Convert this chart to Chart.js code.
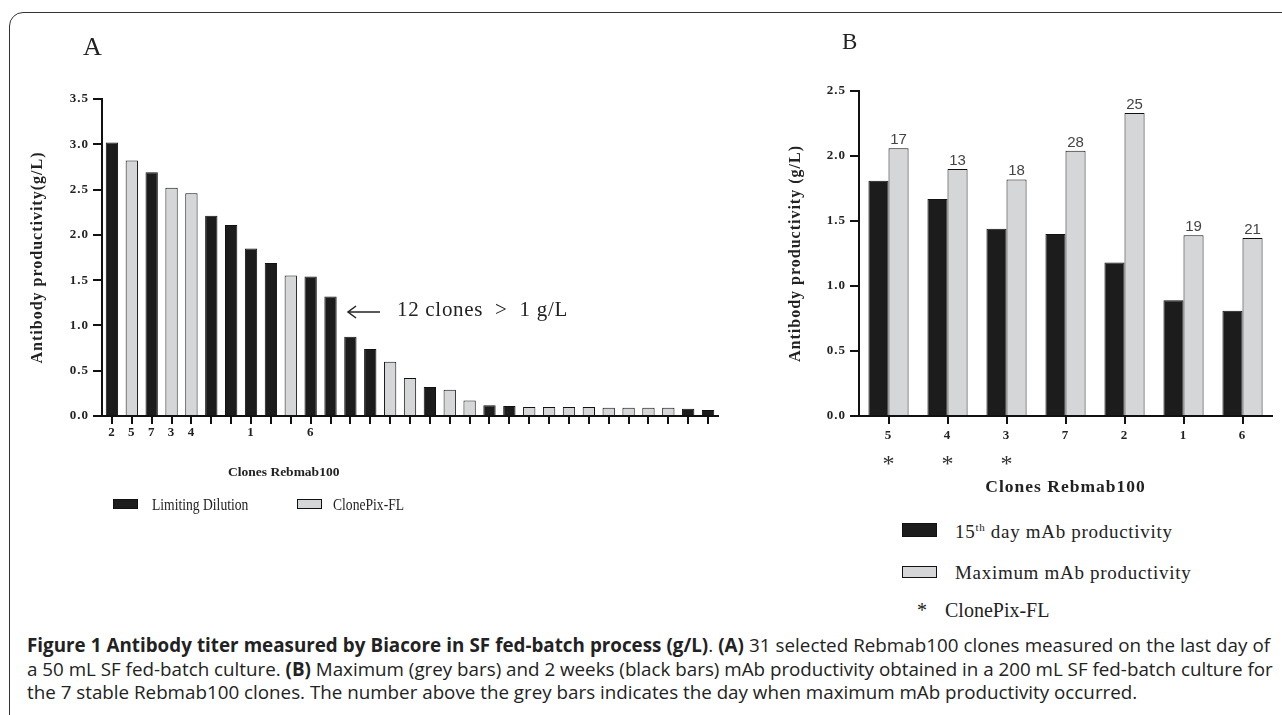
<!DOCTYPE html>
<html>
<head>
<meta charset="utf-8">
<script src="https://cdn.jsdelivr.net/npm/chart.js@4.4.1/dist/chart.umd.min.js"></script>
<style>
  html, body { margin: 0; padding: 0; background: #fff; }
  body { width: 1282px; height: 715px; position: relative; overflow: hidden;
         font-family: "Liberation Serif", "Times New Roman", serif; color: #222; }
  .frame { position: absolute; left: 9px; top: 12px; width: 1320px; height: 760px;
           border: 1.5px solid #333; border-radius: 14px; }
  .abs { position: absolute; white-space: nowrap; line-height: 1; }
  canvas { position: absolute; top: 0; }
  #chartA { left: 0; }
  #chartB { left: 740px; }
  .box { position: absolute; box-sizing: border-box; border: 1px solid #111; }
  .narrow { transform: scaleX(0.8); transform-origin: left center; }
  .wide { letter-spacing: 0.7px; }
  .cap { position: absolute; left: 27px; top: 634px; width: 1243px;
         font-family: "Open Sans", sans-serif; font-size: 18.8px; line-height: 23.5px; color: #222; }
  .cap div { white-space: nowrap; }
  .cap .j { text-align: justify; text-align-last: justify; }
</style>
</head>
<body>
<div class="frame"></div>

<canvas id="chartA" width="740" height="480"></canvas>
<canvas id="chartB" width="542" height="498"></canvas>

<div class="abs" style="left:83px; top:34px; font-size:26px;">A</div>
<div class="abs" style="left:842px; top:30px; font-size:23px;">B</div>

<svg class="abs" style="left:345px; top:304px;" width="38" height="16">
  <line x1="3" y1="8" x2="35" y2="8" stroke="#222" stroke-width="1.5"/>
  <polyline points="11,2 3,8 11,14" fill="none" stroke="#222" stroke-width="1.5"/>
</svg>
<div class="abs" style="left:397px; top:299px; font-size:21px; letter-spacing:0.7px;">12 clones&nbsp; &gt;&nbsp; 1 g/L</div>

<div class="abs" style="left:228px; top:465px; font-size:13.5px; font-weight:bold;">Clones Rebmab100</div>

<div id="legendA"></div>
<div id="legendB"></div>

<div class="cap">
  <div class="j"><b>Figure 1 Antibody titer measured by Biacore in SF fed-batch process (g/L)</b>. <b>(A)</b> 31 selected Rebmab100 clones measured on the last day of</div>
  <div class="j">a 50 mL SF fed-batch culture. <b>(B)</b> Maximum (grey bars) and 2 weeks (black bars) mAb productivity obtained in a 200 mL SF fed-batch culture for</div>
  <div>the 7 stable Rebmab100 clones. The number above the grey bars indicates the day when maximum mAb productivity occurred.</div>
</div>

<script>
"use strict";

const BLACK = "#1c1c1c";
const GREY = "#d5d6d8";
const EDGE = "#111";
const INK = "#222";
const SERIF = '"Liberation Serif", "Times New Roman", serif';

// Panel A: 31 clones, last day of 50 mL fed-batch
const clonesA = ["2", "5", "7", "3", "4", "", "", "1", "", "", "6", "", "", "", "", "",
                 "", "", "", "", "", "", "", "", "", "", "", "", "", "", ""];
const titerA = [3.02, 2.82, 2.69, 2.52, 2.46, 2.21, 2.11, 1.85, 1.69, 1.55, 1.54, 1.32,
                0.875, 0.74, 0.60, 0.42, 0.32, 0.29, 0.17, 0.12, 0.11, 0.10, 0.10, 0.10,
                0.10, 0.09, 0.09, 0.09, 0.09, 0.08, 0.065];
const methodA = ["LD", "CP", "LD", "CP", "CP", "LD", "LD", "LD", "LD", "CP", "LD", "LD",
                 "LD", "LD", "CP", "CP", "LD", "CP", "CP", "LD", "LD", "CP", "CP", "CP",
                 "CP", "CP", "CP", "CP", "CP", "LD", "LD"];
const methodNames = { LD: "Limiting Dilution", CP: "ClonePix-FL" };

// Panel B: 7 stable clones, 200 mL fed-batch
const clonesB = ["5", "4", "3", "7", "2", "1", "6"];
const clonePixB = [true, true, true, false, false, false, false];
const day15B = [1.81, 1.67, 1.44, 1.40, 1.18, 0.89, 0.81];
const maxB = [2.06, 1.90, 1.82, 2.04, 2.33, 1.39, 1.37];
const maxDayB = [17, 13, 18, 28, 25, 19, 21];

const yTicksA = { max: 3.5, step: 0.5 };
const yTicksB = { max: 2.5, step: 0.5 };

function $(id) { return document.getElementById(id); }

function bold(size, lineHeight) {
  return { family: SERIF, size: size, weight: "bold", lineHeight: lineHeight || 1.2 };
}

// fix axis box sizes so the plot area lands where the figure has it
function fixWidth(w) {
  return scale => { scale.width = w; scale.paddingTop = 0; scale.paddingBottom = 0; };
}
function fixHeight(h) {
  return scale => { scale.height = h; scale.paddingLeft = 0; scale.paddingRight = 0; };
}

function yAxis(ticks, title, titlePad, width) {
  return {
    min: 0, max: ticks.max,
    ticks: { stepSize: ticks.step, color: INK, font: bold(13), padding: 4,
             callback: v => v.toFixed(1) },
    grid: { drawOnChartArea: false, tickLength: 9, color: EDGE, lineWidth: 2 },
    border: { display: true, color: EDGE, width: 2 },
    title: { display: true, text: title, color: INK, font: bold(16), padding: { top: titlePad, bottom: 0 } },
    afterFit: fixWidth(width),
  };
}

function xAxis(tickPad, title, height) {
  return {
    offset: true,
    ticks: { autoSkip: false, maxRotation: 0, color: INK, font: bold(13), padding: tickPad },
    grid: { offset: false, drawOnChartArea: false, tickLength: 8, color: EDGE, lineWidth: 2 },
    border: { display: true, color: EDGE, width: 2 },
    title: title,
    afterFit: fixHeight(height),
  };
}

// the original lettering is loosely spaced
const spacing = {
  id: "spacing",
  beforeDraw(chart) { chart.ctx.letterSpacing = "1px"; },
};

const common = {
  responsive: false, animation: false,
  plugins: { legend: { display: false }, tooltip: { enabled: false } },
};

function initChartA() {
  const datasets = ["LD", "CP"].map(m => ({
    label: methodNames[m],
    data: titerA.map((v, i) => methodA[i] === m ? v : null),
    backgroundColor: m === "LD" ? BLACK : GREY,
    borderColor: EDGE, borderWidth: 1,
    grouped: false, barPercentage: 0.62, categoryPercentage: 1,
  }));
  return new Chart($("chartA"), {
    type: "bar",
    data: { labels: clonesA, datasets },
    options: {
      ...common,
      layout: { padding: { left: 0, top: 99, right: 22, bottom: 0 } },
      scales: {
        x: xAxis(1, { display: false }, 64),
        y: yAxis(yTicksA, "Antibody productivity(g/L)", 28, 102),
      },
    },
    plugins: [spacing],
  });
}

// day of maximum productivity over each grey bar, asterisk under ClonePix-FL clones
const annotateB = {
  id: "annotateB",
  afterDatasetsDraw(chart) {
    const ctx = chart.ctx;
    const meta = chart.getDatasetMeta(1);
    const x = chart.scales.x;
    ctx.save();
    ctx.letterSpacing = "0px";
    ctx.font = '15px "Liberation Sans", Arial, sans-serif';
    ctx.fillStyle = "#444";
    ctx.textAlign = "center";
    ctx.textBaseline = "alphabetic";
    meta.data.forEach((bar, i) => ctx.fillText(String(maxDayB[i]), bar.x, bar.y - 4));
    ctx.font = "24px " + SERIF;
    ctx.fillStyle = "#333";
    ctx.textBaseline = "middle";
    clonePixB.forEach((cp, i) => {
      if (cp) ctx.fillText("*", x.getPixelForTick(i), 465);
    });
    ctx.restore();
  },
};

function initChartB() {
  const bar = { borderColor: EDGE, borderWidth: 1, barPercentage: 1, categoryPercentage: 0.68 };
  return new Chart($("chartB"), {
    type: "bar",
    data: { labels: clonesB, datasets: [
      { label: "15th day mAb productivity", data: day15B, backgroundColor: BLACK, ...bar },
      { label: "Maximum mAb productivity", data: maxB, backgroundColor: GREY, ...bar },
    ]},
    options: {
      ...common,
      layout: { padding: { left: 0, top: 91, right: 10, bottom: 0 } },
      scales: {
        x: xAxis(4, { display: true, text: "Clones Rebmab100", color: INK, font: bold(17.5),
                      padding: { top: 0, bottom: 0 } }, 82),
        y: yAxis(yTicksB, "Antibody productivity (g/L)", 46, 119),
      },
    },
    plugins: [spacing, annotateB],
  });
}

function box(left, top, w, h, fill) {
  return `<div class="box" style="left:${left}px;top:${top}px;width:${w}px;height:${h}px;background:${fill}"></div>`;
}
function text(left, top, size, html, cls) {
  return `<div class="abs ${cls || ""}" style="left:${left}px;top:${top}px;font-size:${size}px">${html}</div>`;
}

function renderLegends(chartA, chartB) {
  const a = chartA.data.datasets;
  $("legendA").innerHTML =
    box(113, 499, 25, 10, a[0].backgroundColor) + text(152, 495.5, 17, a[0].label, "narrow") +
    box(297, 499, 25, 10, a[1].backgroundColor) + text(333, 495.5, 17, a[1].label, "narrow");
  const b = chartB.data.datasets;
  $("legendB").innerHTML =
    box(902, 523, 35, 14, b[0].backgroundColor) +
    text(955, 522, 19, "15<sup style='font-size:11px'>th</sup> day mAb productivity", "wide") +
    box(902, 566, 35, 12, b[1].backgroundColor) +
    text(955, 563, 19, b[1].label, "wide") +
    text(917, 600, 20, "*") + text(945, 600, 20, "ClonePix-FL");
}

function start() {
  const chartA = initChartA();
  const chartB = initChartB();
  renderLegends(chartA, chartB);
}

document.addEventListener("DOMContentLoaded", start);
</script>
</body>
</html>
